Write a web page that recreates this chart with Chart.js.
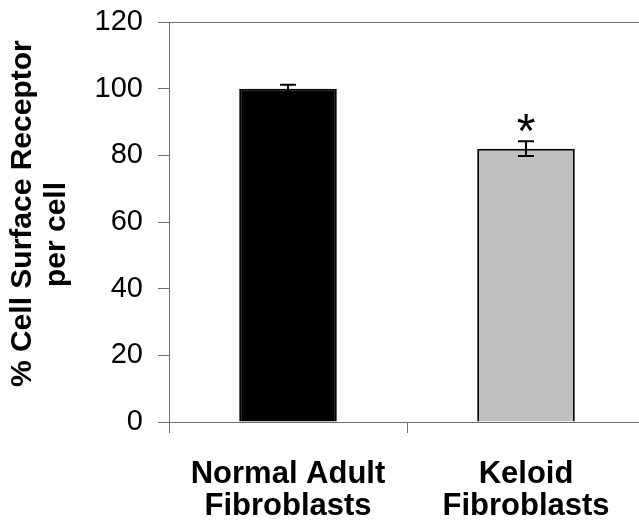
<!DOCTYPE html>
<html>
<head>
<meta charset="utf-8">
<script src="https://cdn.jsdelivr.net/npm/chart.js@4/dist/chart.umd.min.js"></script>
<style>
  html, body { margin: 0; padding: 0; background: #fff; }
  #wrap { width: 639px; height: 523px; overflow: hidden; }
</style>
</head>
<body>
<div id="wrap">
  <canvas id="chart" width="660" height="523"></canvas>
</div>
<script>
// data
const categories = [['Normal Adult', 'Fibroblasts'], ['Keloid', 'Fibroblasts']];
const values = [100, 82];
const errors = [1.2, 2.2];
const marks = ['', '*'];
const barColors = ['#000000', '#c0c0c0'];
const yMin = 0;
const yMax = 120;
const yStep = 20;

const FONT = '"Liberation Sans", Arial, Helvetica, sans-serif';
const AXIS_GRAY = '#707070';

// error bars and the significance mark
const errorBars = {
  id: 'errorBars',
  afterDatasetsDraw(chart) {
    const ctx = chart.ctx;
    const y = chart.scales.y;
    const meta = chart.getDatasetMeta(0);
    ctx.save();
    ctx.strokeStyle = '#000';
    ctx.lineWidth = 2;
    meta.data.forEach((bar, i) => {
      const cx = bar.x;
      const top = y.getPixelForValue(values[i] + errors[i]);
      const bottom = y.getPixelForValue(values[i] - errors[i]);
      const half = 8;
      ctx.beginPath();
      ctx.moveTo(cx, top);
      ctx.lineTo(cx, bottom);
      ctx.moveTo(cx - half, top);
      ctx.lineTo(cx + half, top);
      ctx.moveTo(cx - half, bottom);
      ctx.lineTo(cx + half, bottom);
      ctx.stroke();

      if (marks[i]) {
        ctx.fillStyle = '#000';
        ctx.font = '48px ' + FONT;
        ctx.textAlign = 'center';
        ctx.textBaseline = 'alphabetic';
        ctx.fillText(marks[i], cx, top + 6);
      }
    });
    ctx.restore();
  }
};

const chart = new Chart(document.getElementById('chart'), {
  type: 'bar',
  data: {
    labels: categories,
    datasets: [{
      data: values,
      backgroundColor: barColors,
      borderColor: '#000',
      borderWidth: 2,
      borderSkipped: 'start',
      categoryPercentage: 1,
      barPercentage: 0.41
    }]
  },
  options: {
    responsive: false,
    animation: false,
    events: [],
    layout: {
      padding: { top: 22, right: 15, bottom: 0, left: 0 }
    },
    plugins: {
      legend: { display: false },
      tooltip: { enabled: false }
    },
    scales: {
      x: {
        offset: true,
        grid: {
          offset: true,
          drawOnChartArea: false,
          color: AXIS_GRAY,
          tickLength: 11
        },
        border: { color: AXIS_GRAY, width: 1 },
        ticks: {
          color: '#000',
          padding: 25,
          maxRotation: 0,
          font: { family: FONT, size: 31, weight: 'bold', lineHeight: 1.05 }
        },
        afterFit(scale) {
          scale.height = 101;
        }
      },
      y: {
        min: yMin,
        max: yMax,
        ticks: {
          stepSize: yStep,
          color: '#000',
          padding: 15,
          font: { family: FONT, size: 29 }
        },
        grid: {
          color: ctx => ctx.tick && ctx.tick.value === yMax ? AXIS_GRAY : 'rgba(0,0,0,0)',
          tickColor: AXIS_GRAY,
          tickLength: 11
        },
        border: { color: AXIS_GRAY, width: 1 },
        title: {
          display: true,
          text: ['  % Cell Surface Receptor', 'per cell   '],
          color: '#000',
          padding: { top: 5, bottom: 0 },
          font: { family: FONT, size: 30, weight: 'bold', lineHeight: 1.15 }
        },
        afterFit(scale) {
          scale.width = 169;
          scale.paddingTop = 0;
          scale.paddingBottom = 0;
        }
      }
    }
  },
  plugins: [errorBars]
});
</script>
</body>
</html>
